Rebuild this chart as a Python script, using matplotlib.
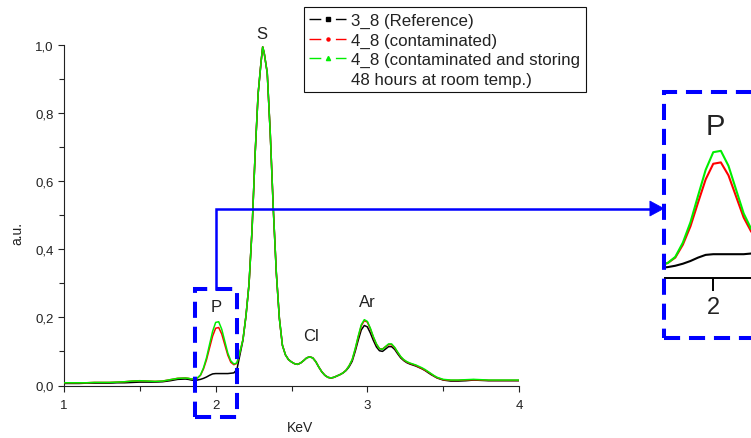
import matplotlib
matplotlib.use("Agg")
import matplotlib.pyplot as plt
from matplotlib.lines import Line2D
from matplotlib.patches import Rectangle, Polygon
from matplotlib.ticker import FuncFormatter, MultipleLocator, FixedLocator

plt.rcParams['font.family'] = ['Liberation Sans', 'DejaVu Sans']

# ---------------- data ----------------
energy = [1.00, 1.05, 1.10, 1.15, 1.20, 1.25, 1.30, 1.35, 1.40, 1.45, 1.50, 1.55, 1.60, 1.65, 1.70, 1.75,
          1.80, 1.82, 1.84, 1.86, 1.88, 1.90, 1.92, 1.94, 1.96, 1.98, 2.00, 2.02, 2.04, 2.06, 2.08, 2.10,
          2.12, 2.14, 2.16, 2.18, 2.20, 2.22, 2.24, 2.26, 2.28, 2.30, 2.31, 2.32, 2.34, 2.36, 2.38, 2.40,
          2.42, 2.44, 2.46, 2.48, 2.50, 2.52, 2.54, 2.56, 2.58, 2.60, 2.62, 2.64, 2.66, 2.68, 2.70, 2.72,
          2.74, 2.76, 2.78, 2.80, 2.82, 2.84, 2.86, 2.88, 2.90, 2.92, 2.94, 2.96, 2.98, 3.00, 3.02, 3.04,
          3.06, 3.08, 3.10, 3.12, 3.14, 3.16, 3.18, 3.20, 3.22, 3.24, 3.26, 3.28, 3.30, 3.32, 3.34, 3.36,
          3.38, 3.40, 3.42, 3.44, 3.46, 3.48, 3.50, 3.55, 3.60, 3.65, 3.70, 3.75, 3.80, 3.85, 3.90, 3.95, 4.00]

ref_3_8 = [0.006, 0.006, 0.006, 0.007, 0.007, 0.007, 0.007, 0.008, 0.008, 0.009, 0.010, 0.010, 0.010, 0.011, 0.014, 0.018,
           0.019, 0.018, 0.016, 0.015, 0.016, 0.018, 0.021, 0.025, 0.030, 0.034, 0.035, 0.035, 0.035, 0.035, 0.035, 0.036,
           0.037, 0.047, 0.090, 0.133, 0.205, 0.298, 0.458, 0.678, 0.856, 0.952, 0.993, 0.975, 0.917, 0.739, 0.518, 0.330,
           0.197, 0.118, 0.090, 0.076, 0.069, 0.064, 0.062, 0.066, 0.073, 0.081, 0.084, 0.081, 0.070, 0.054, 0.040, 0.030,
           0.024, 0.022, 0.024, 0.028, 0.032, 0.037, 0.044, 0.055, 0.071, 0.100, 0.133, 0.163, 0.176, 0.172, 0.154, 0.132,
           0.113, 0.102, 0.100, 0.107, 0.114, 0.114, 0.106, 0.093, 0.081, 0.073, 0.067, 0.063, 0.060, 0.057, 0.053, 0.049,
           0.044, 0.038, 0.032, 0.027, 0.022, 0.019, 0.016, 0.013, 0.013, 0.014, 0.016, 0.015, 0.014, 0.014, 0.014, 0.014, 0.014]

cont_4_8 = [0.008, 0.008, 0.008, 0.008, 0.009, 0.009, 0.009, 0.010, 0.011, 0.013, 0.014, 0.013, 0.012, 0.013, 0.017, 0.021,
            0.022, 0.021, 0.019, 0.019, 0.022, 0.030, 0.049, 0.076, 0.111, 0.145, 0.168, 0.170, 0.151, 0.120, 0.089, 0.068,
            0.061, 0.065, 0.098, 0.135, 0.205, 0.298, 0.458, 0.678, 0.856, 0.952, 0.993, 0.975, 0.917, 0.739, 0.518, 0.330,
            0.197, 0.118, 0.090, 0.076, 0.069, 0.064, 0.062, 0.066, 0.073, 0.081, 0.084, 0.081, 0.070, 0.054, 0.040, 0.030,
            0.024, 0.022, 0.024, 0.028, 0.032, 0.037, 0.045, 0.058, 0.075, 0.106, 0.142, 0.175, 0.190, 0.186, 0.166, 0.141,
            0.121, 0.108, 0.107, 0.114, 0.120, 0.120, 0.111, 0.097, 0.084, 0.075, 0.069, 0.065, 0.062, 0.059, 0.054, 0.050,
            0.045, 0.040, 0.034, 0.028, 0.023, 0.020, 0.017, 0.015, 0.015, 0.016, 0.017, 0.016, 0.015, 0.015, 0.015, 0.015, 0.015]

stored_4_8 = [0.008, 0.008, 0.008, 0.008, 0.009, 0.009, 0.009, 0.010, 0.011, 0.013, 0.014, 0.013, 0.012, 0.013, 0.017, 0.021,
              0.022, 0.021, 0.019, 0.019, 0.022, 0.031, 0.052, 0.082, 0.121, 0.159, 0.185, 0.187, 0.165, 0.130, 0.095, 0.072,
              0.063, 0.066, 0.098, 0.135, 0.205, 0.298, 0.458, 0.678, 0.856, 0.952, 0.993, 0.975, 0.917, 0.739, 0.518, 0.330,
              0.197, 0.118, 0.090, 0.076, 0.069, 0.064, 0.062, 0.066, 0.073, 0.081, 0.084, 0.081, 0.070, 0.054, 0.040, 0.030,
              0.024, 0.022, 0.024, 0.028, 0.032, 0.037, 0.045, 0.058, 0.076, 0.108, 0.145, 0.178, 0.193, 0.188, 0.168, 0.143,
              0.122, 0.108, 0.106, 0.114, 0.122, 0.122, 0.112, 0.098, 0.085, 0.076, 0.070, 0.066, 0.063, 0.060, 0.056, 0.052,
              0.047, 0.041, 0.035, 0.029, 0.024, 0.021, 0.018, 0.016, 0.016, 0.017, 0.018, 0.017, 0.016, 0.016, 0.016, 0.016, 0.016]

series_labels = ["3_8 (Reference)", "4_8 (contaminated)", "4_8 (contaminated and storing",
                 "48 hours at room temp.)"]
peak_names = ["S", "P", "Cl", "Ar"]
peak_pos = [(2.307, 1.032), (2.006, 0.233), (2.628, 0.147), (3.002, 0.246)]
x_ticks = [1, 2, 3, 4]
y_ticks = [0.0, 0.2, 0.4, 0.6, 0.8, 1.0]

BLACK, RED, GREEN, BLUE = "#000000", "#ff0000", "#00ee00", "#0000ff"

W, H = 751, 439
fig = plt.figure(figsize=(W / 100, H / 100), dpi=100)

# ---------------- main axes ----------------
ax = fig.add_axes([64 / W, 1 - 386.5 / H, (519 - 64) / W, (386.5 - 45.5) / H])
ax.plot(energy, ref_3_8, color=BLACK, lw=1.1, zorder=3)
ax.plot(energy, cont_4_8, color=RED, lw=1.1, zorder=4)
ax.plot(energy, stored_4_8, color=GREEN, lw=1.1, zorder=5)

ax.set_xlim(1, 4)
ax.set_ylim(0, 1.0)
for s in ["top", "right"]:
    ax.spines[s].set_visible(False)
for s in ["left", "bottom"]:
    ax.spines[s].set_linewidth(0.8)
    ax.spines[s].set_color("#222222")
ax.xaxis.set_major_locator(FixedLocator(x_ticks))
ax.xaxis.set_minor_locator(MultipleLocator(0.5))
ax.yaxis.set_major_locator(FixedLocator(y_ticks))
ax.yaxis.set_minor_locator(MultipleLocator(0.1))
ax.xaxis.set_major_formatter(FuncFormatter(lambda v, p: f"{v:.0f}"))
ax.yaxis.set_major_formatter(FuncFormatter(lambda v, p: f"{v:.1f}".replace(".", ",")))
ax.tick_params(which="both", direction="out", width=0.8, color="#222222", labelsize=9.5,
               labelcolor="#222222")
ax.tick_params(axis="x", which="major", pad=6)
ax.tick_params(which="major", length=4)
ax.tick_params(which="minor", length=3.5)
ax.set_xlabel("KeV", fontsize=10, color="#222222")
ax.set_ylabel("a.u.", fontsize=10, color="#222222")
ax.xaxis.set_label_coords(0.519, -0.101)
ax.yaxis.set_label_coords(-0.086, 0.45)

for name, (px, py) in zip(peak_names, peak_pos):
    ax.text(px, py, name, fontsize=12, ha="center", va="center", color="#222222")

# dashed selection box around the P peak
ax.add_patch(Rectangle((1.864, -0.091), 0.276, 0.373, fill=False, ec=BLUE, lw=2.9,
                       ls=(0, (4, 2.2)), clip_on=False, zorder=6))
# connector with arrow to the inset
ax.plot([2.0, 2.0, 4.87], [0.282, 0.519, 0.519], color=BLUE, lw=1.8,
        clip_on=False, zorder=6, solid_joinstyle="miter")
ax.add_patch(Polygon([(4.863, 0.541), (4.955, 0.519), (4.863, 0.497)], closed=True,
                     fc=BLUE, ec=BLUE, lw=0.5, clip_on=False, zorder=6))

# legend
handles = [
    Line2D([], [], color=BLACK, lw=1.0, ls=(0, (8.5, 10.5)), marker="s", markersize=2.5),
    Line2D([], [], color=RED, lw=1.0, ls=(0, (8.5, 10.5)), marker="o", markersize=2.2),
    Line2D([], [], color=GREEN, lw=1.0, ls=(0, (8.5, 10.5)), marker="^", markersize=3),
    Line2D([], [], ls="none"),
]
leg = ax.legend(handles, series_labels, loc="upper left",
                bbox_to_anchor=(303.5 / W, 1 - 8.3 / H), bbox_transform=fig.transFigure,
                fontsize=12.2, frameon=True, fancybox=False, shadow=False, framealpha=1,
                edgecolor="#111111", handlelength=2.2, handletextpad=0.3, labelspacing=0.26,
                borderpad=0.33, borderaxespad=0, numpoints=1)
leg.get_frame().set_linewidth(0.8)
for t in leg.get_texts():
    t.set_color("#222222")

# ---------------- zoomed inset (cut by the right edge) ----------------
ins = fig.add_axes([665 / W, 1 - 279 / H, 220 / W, 179 / H])
ins.patch.set_visible(False)
ins.plot(energy, ref_3_8, color=BLACK, lw=1.5)
ins.plot(energy, cont_4_8, color=RED, lw=1.5)
ins.plot(energy, stored_4_8, color=GREEN, lw=1.5)
ins.set_xlim(1.873, 1.873 + 220 / 380)
ins.set_ylim(0, 179 / 680)
for s in ["top", "right", "left"]:
    ins.spines[s].set_visible(False)
ins.spines["bottom"].set_linewidth(1.4)
ins.set_xticks([2])
ins.set_xticklabels(["2"])
ins.set_yticks([])
ins.tick_params(axis="x", direction="out", length=9, width=1.4, labelsize=17, pad=4,
                labelcolor="#222222")
ins.text(2.005, 0.224, "P", fontsize=21, ha="center", va="center", color="#222222")

fig.add_artist(Rectangle((664 / W, 1 - 339.3 / H), 0.3, (339.3 - 92.7) / H, fill=False,
                         ec=BLUE, lw=2.9, ls=(0, (4, 2.2)), transform=fig.transFigure,
                         zorder=10))

fig.savefig("out.png", dpi=100)
